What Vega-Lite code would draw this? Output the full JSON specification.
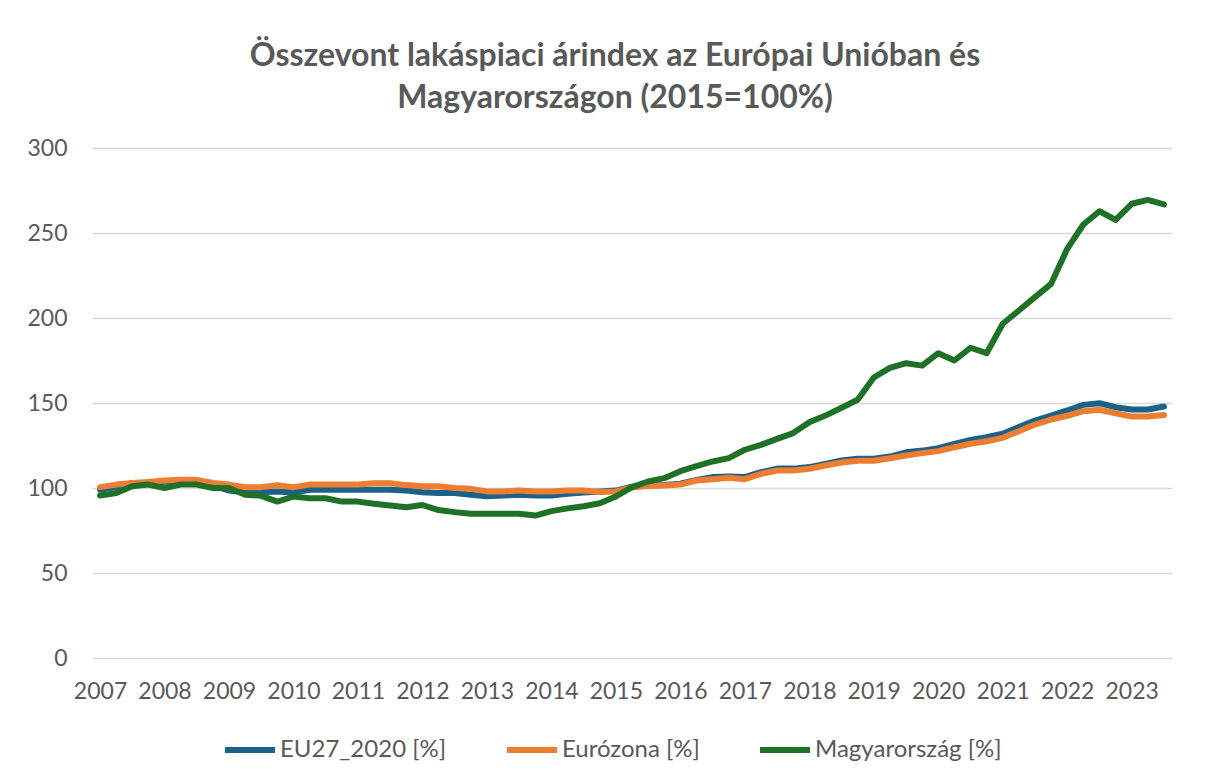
{
  "$schema": "https://vega.github.io/schema/vega-lite/v6.json",
  "width": 1080,
  "height": 510,
  "autosize": {"type": "none"},
  "padding": {"left": 92, "top": 148, "right": 36, "bottom": 124},
  "background": "white",
  "title": {
    "text": ["Összevont lakáspiaci árindex az Európai Unióban és", "Magyarországon (2015=100%)"],
    "font": "Lato",
    "fontSize": 32,
    "fontWeight": "bold",
    "color": "#595959",
    "anchor": "middle",
    "lineHeight": 42,
    "offset": 22,
    "dx": -17
  },
  "config": {
    "view": {"stroke": null},
    "font": "Lato"
  },
  "data": {
    "values": [
      {"period":"2007Q1","series":"EU27_2020 [%]","value":99},
      {"period":"2007Q2","series":"EU27_2020 [%]","value":100.5},
      {"period":"2007Q3","series":"EU27_2020 [%]","value":103},
      {"period":"2007Q4","series":"EU27_2020 [%]","value":103},
      {"period":"2008Q1","series":"EU27_2020 [%]","value":103.6},
      {"period":"2008Q2","series":"EU27_2020 [%]","value":104},
      {"period":"2008Q3","series":"EU27_2020 [%]","value":104},
      {"period":"2008Q4","series":"EU27_2020 [%]","value":101.5},
      {"period":"2009Q1","series":"EU27_2020 [%]","value":98.5},
      {"period":"2009Q2","series":"EU27_2020 [%]","value":97.4},
      {"period":"2009Q3","series":"EU27_2020 [%]","value":97.5},
      {"period":"2009Q4","series":"EU27_2020 [%]","value":98},
      {"period":"2010Q1","series":"EU27_2020 [%]","value":97.4},
      {"period":"2010Q2","series":"EU27_2020 [%]","value":99},
      {"period":"2010Q3","series":"EU27_2020 [%]","value":99},
      {"period":"2010Q4","series":"EU27_2020 [%]","value":99},
      {"period":"2011Q1","series":"EU27_2020 [%]","value":99},
      {"period":"2011Q2","series":"EU27_2020 [%]","value":99},
      {"period":"2011Q3","series":"EU27_2020 [%]","value":99},
      {"period":"2011Q4","series":"EU27_2020 [%]","value":98.5},
      {"period":"2012Q1","series":"EU27_2020 [%]","value":97.5},
      {"period":"2012Q2","series":"EU27_2020 [%]","value":97},
      {"period":"2012Q3","series":"EU27_2020 [%]","value":97},
      {"period":"2012Q4","series":"EU27_2020 [%]","value":96},
      {"period":"2013Q1","series":"EU27_2020 [%]","value":95.2},
      {"period":"2013Q2","series":"EU27_2020 [%]","value":95.6},
      {"period":"2013Q3","series":"EU27_2020 [%]","value":96},
      {"period":"2013Q4","series":"EU27_2020 [%]","value":95.6},
      {"period":"2014Q1","series":"EU27_2020 [%]","value":95.6},
      {"period":"2014Q2","series":"EU27_2020 [%]","value":96.6},
      {"period":"2014Q3","series":"EU27_2020 [%]","value":97.4},
      {"period":"2014Q4","series":"EU27_2020 [%]","value":98},
      {"period":"2015Q1","series":"EU27_2020 [%]","value":98.5},
      {"period":"2015Q2","series":"EU27_2020 [%]","value":100.8},
      {"period":"2015Q3","series":"EU27_2020 [%]","value":101.5},
      {"period":"2015Q4","series":"EU27_2020 [%]","value":101.8},
      {"period":"2016Q1","series":"EU27_2020 [%]","value":102.5},
      {"period":"2016Q2","series":"EU27_2020 [%]","value":104.8},
      {"period":"2016Q3","series":"EU27_2020 [%]","value":106.4},
      {"period":"2016Q4","series":"EU27_2020 [%]","value":106.8},
      {"period":"2017Q1","series":"EU27_2020 [%]","value":106.4},
      {"period":"2017Q2","series":"EU27_2020 [%]","value":109.3},
      {"period":"2017Q3","series":"EU27_2020 [%]","value":111.4},
      {"period":"2017Q4","series":"EU27_2020 [%]","value":111.4},
      {"period":"2018Q1","series":"EU27_2020 [%]","value":112.3},
      {"period":"2018Q2","series":"EU27_2020 [%]","value":114.2},
      {"period":"2018Q3","series":"EU27_2020 [%]","value":116.2},
      {"period":"2018Q4","series":"EU27_2020 [%]","value":117.2},
      {"period":"2019Q1","series":"EU27_2020 [%]","value":117.2},
      {"period":"2019Q2","series":"EU27_2020 [%]","value":118.5},
      {"period":"2019Q3","series":"EU27_2020 [%]","value":121},
      {"period":"2019Q4","series":"EU27_2020 [%]","value":122},
      {"period":"2020Q1","series":"EU27_2020 [%]","value":123.4},
      {"period":"2020Q2","series":"EU27_2020 [%]","value":126},
      {"period":"2020Q3","series":"EU27_2020 [%]","value":128.3},
      {"period":"2020Q4","series":"EU27_2020 [%]","value":129.9},
      {"period":"2021Q1","series":"EU27_2020 [%]","value":131.9},
      {"period":"2021Q2","series":"EU27_2020 [%]","value":135.8},
      {"period":"2021Q3","series":"EU27_2020 [%]","value":139.7},
      {"period":"2021Q4","series":"EU27_2020 [%]","value":142.6},
      {"period":"2022Q1","series":"EU27_2020 [%]","value":145.6},
      {"period":"2022Q2","series":"EU27_2020 [%]","value":148.9},
      {"period":"2022Q3","series":"EU27_2020 [%]","value":149.9},
      {"period":"2022Q4","series":"EU27_2020 [%]","value":147.5},
      {"period":"2023Q1","series":"EU27_2020 [%]","value":146.2},
      {"period":"2023Q2","series":"EU27_2020 [%]","value":146.2},
      {"period":"2023Q3","series":"EU27_2020 [%]","value":147.9},

      {"period":"2007Q1","series":"Eurózona [%]","value":100.5},
      {"period":"2007Q2","series":"Eurózona [%]","value":102},
      {"period":"2007Q3","series":"Eurózona [%]","value":103},
      {"period":"2007Q4","series":"Eurózona [%]","value":103.6},
      {"period":"2008Q1","series":"Eurózona [%]","value":104.4},
      {"period":"2008Q2","series":"Eurózona [%]","value":104.8},
      {"period":"2008Q3","series":"Eurózona [%]","value":104.8},
      {"period":"2008Q4","series":"Eurózona [%]","value":103},
      {"period":"2009Q1","series":"Eurózona [%]","value":102},
      {"period":"2009Q2","series":"Eurózona [%]","value":100.5},
      {"period":"2009Q3","series":"Eurózona [%]","value":100.5},
      {"period":"2009Q4","series":"Eurózona [%]","value":101.7},
      {"period":"2010Q1","series":"Eurózona [%]","value":100.5},
      {"period":"2010Q2","series":"Eurózona [%]","value":102},
      {"period":"2010Q3","series":"Eurózona [%]","value":102},
      {"period":"2010Q4","series":"Eurózona [%]","value":102},
      {"period":"2011Q1","series":"Eurózona [%]","value":102},
      {"period":"2011Q2","series":"Eurózona [%]","value":102.8},
      {"period":"2011Q3","series":"Eurózona [%]","value":102.8},
      {"period":"2011Q4","series":"Eurózona [%]","value":101.7},
      {"period":"2012Q1","series":"Eurózona [%]","value":101},
      {"period":"2012Q2","series":"Eurózona [%]","value":101},
      {"period":"2012Q3","series":"Eurózona [%]","value":100},
      {"period":"2012Q4","series":"Eurózona [%]","value":99.5},
      {"period":"2013Q1","series":"Eurózona [%]","value":98},
      {"period":"2013Q2","series":"Eurózona [%]","value":98},
      {"period":"2013Q3","series":"Eurózona [%]","value":98.5},
      {"period":"2013Q4","series":"Eurózona [%]","value":98},
      {"period":"2014Q1","series":"Eurózona [%]","value":98},
      {"period":"2014Q2","series":"Eurózona [%]","value":98.5},
      {"period":"2014Q3","series":"Eurózona [%]","value":98.5},
      {"period":"2014Q4","series":"Eurózona [%]","value":97.7},
      {"period":"2015Q1","series":"Eurózona [%]","value":98},
      {"period":"2015Q2","series":"Eurózona [%]","value":100.3},
      {"period":"2015Q3","series":"Eurózona [%]","value":101.3},
      {"period":"2015Q4","series":"Eurózona [%]","value":101.5},
      {"period":"2016Q1","series":"Eurózona [%]","value":102},
      {"period":"2016Q2","series":"Eurózona [%]","value":104.4},
      {"period":"2016Q3","series":"Eurózona [%]","value":105.2},
      {"period":"2016Q4","series":"Eurózona [%]","value":106},
      {"period":"2017Q1","series":"Eurózona [%]","value":105.2},
      {"period":"2017Q2","series":"Eurózona [%]","value":108.3},
      {"period":"2017Q3","series":"Eurózona [%]","value":110.3},
      {"period":"2017Q4","series":"Eurózona [%]","value":110.3},
      {"period":"2018Q1","series":"Eurózona [%]","value":111.3},
      {"period":"2018Q2","series":"Eurózona [%]","value":113.2},
      {"period":"2018Q3","series":"Eurózona [%]","value":115},
      {"period":"2018Q4","series":"Eurózona [%]","value":116},
      {"period":"2019Q1","series":"Eurózona [%]","value":116},
      {"period":"2019Q2","series":"Eurózona [%]","value":117.5},
      {"period":"2019Q3","series":"Eurózona [%]","value":119.1},
      {"period":"2019Q4","series":"Eurózona [%]","value":120.5},
      {"period":"2020Q1","series":"Eurózona [%]","value":121.7},
      {"period":"2020Q2","series":"Eurózona [%]","value":124},
      {"period":"2020Q3","series":"Eurózona [%]","value":126},
      {"period":"2020Q4","series":"Eurózona [%]","value":127.5},
      {"period":"2021Q1","series":"Eurózona [%]","value":129.5},
      {"period":"2021Q2","series":"Eurózona [%]","value":133.4},
      {"period":"2021Q3","series":"Eurózona [%]","value":137.3},
      {"period":"2021Q4","series":"Eurózona [%]","value":140.3},
      {"period":"2022Q1","series":"Eurózona [%]","value":142.5},
      {"period":"2022Q2","series":"Eurózona [%]","value":145.2},
      {"period":"2022Q3","series":"Eurózona [%]","value":146},
      {"period":"2022Q4","series":"Eurózona [%]","value":144},
      {"period":"2023Q1","series":"Eurózona [%]","value":142},
      {"period":"2023Q2","series":"Eurózona [%]","value":142},
      {"period":"2023Q3","series":"Eurózona [%]","value":143},

      {"period":"2007Q1","series":"Magyarország [%]","value":95.6},
      {"period":"2007Q2","series":"Magyarország [%]","value":97},
      {"period":"2007Q3","series":"Magyarország [%]","value":101},
      {"period":"2007Q4","series":"Magyarország [%]","value":102},
      {"period":"2008Q1","series":"Magyarország [%]","value":100},
      {"period":"2008Q2","series":"Magyarország [%]","value":102},
      {"period":"2008Q3","series":"Magyarország [%]","value":102},
      {"period":"2008Q4","series":"Magyarország [%]","value":100},
      {"period":"2009Q1","series":"Magyarország [%]","value":100},
      {"period":"2009Q2","series":"Magyarország [%]","value":96},
      {"period":"2009Q3","series":"Magyarország [%]","value":95.4},
      {"period":"2009Q4","series":"Magyarország [%]","value":92},
      {"period":"2010Q1","series":"Magyarország [%]","value":95},
      {"period":"2010Q2","series":"Magyarország [%]","value":94},
      {"period":"2010Q3","series":"Magyarország [%]","value":94},
      {"period":"2010Q4","series":"Magyarország [%]","value":92},
      {"period":"2011Q1","series":"Magyarország [%]","value":92},
      {"period":"2011Q2","series":"Magyarország [%]","value":90.7},
      {"period":"2011Q3","series":"Magyarország [%]","value":89.7},
      {"period":"2011Q4","series":"Magyarország [%]","value":88.7},
      {"period":"2012Q1","series":"Magyarország [%]","value":90},
      {"period":"2012Q2","series":"Magyarország [%]","value":87},
      {"period":"2012Q3","series":"Magyarország [%]","value":85.8},
      {"period":"2012Q4","series":"Magyarország [%]","value":84.8},
      {"period":"2013Q1","series":"Magyarország [%]","value":84.8},
      {"period":"2013Q2","series":"Magyarország [%]","value":84.8},
      {"period":"2013Q3","series":"Magyarország [%]","value":84.8},
      {"period":"2013Q4","series":"Magyarország [%]","value":83.8},
      {"period":"2014Q1","series":"Magyarország [%]","value":86.4},
      {"period":"2014Q2","series":"Magyarország [%]","value":88},
      {"period":"2014Q3","series":"Magyarország [%]","value":89.3},
      {"period":"2014Q4","series":"Magyarország [%]","value":91},
      {"period":"2015Q1","series":"Magyarország [%]","value":95},
      {"period":"2015Q2","series":"Magyarország [%]","value":100.5},
      {"period":"2015Q3","series":"Magyarország [%]","value":103.8},
      {"period":"2015Q4","series":"Magyarország [%]","value":105.8},
      {"period":"2016Q1","series":"Magyarország [%]","value":109.9},
      {"period":"2016Q2","series":"Magyarország [%]","value":112.9},
      {"period":"2016Q3","series":"Magyarország [%]","value":115.6},
      {"period":"2016Q4","series":"Magyarország [%]","value":117.6},
      {"period":"2017Q1","series":"Magyarország [%]","value":122.5},
      {"period":"2017Q2","series":"Magyarország [%]","value":125.4},
      {"period":"2017Q3","series":"Magyarország [%]","value":128.9},
      {"period":"2017Q4","series":"Magyarország [%]","value":132.3},
      {"period":"2018Q1","series":"Magyarország [%]","value":138.7},
      {"period":"2018Q2","series":"Magyarország [%]","value":142.6},
      {"period":"2018Q3","series":"Magyarország [%]","value":147.2},
      {"period":"2018Q4","series":"Magyarország [%]","value":151.9},
      {"period":"2019Q1","series":"Magyarország [%]","value":165},
      {"period":"2019Q2","series":"Magyarország [%]","value":170.7},
      {"period":"2019Q3","series":"Magyarország [%]","value":173.4},
      {"period":"2019Q4","series":"Magyarország [%]","value":172},
      {"period":"2020Q1","series":"Magyarország [%]","value":179.3},
      {"period":"2020Q2","series":"Magyarország [%]","value":175},
      {"period":"2020Q3","series":"Magyarország [%]","value":182.5},
      {"period":"2020Q4","series":"Magyarország [%]","value":179.3},
      {"period":"2021Q1","series":"Magyarország [%]","value":196.6},
      {"period":"2021Q2","series":"Magyarország [%]","value":204.4},
      {"period":"2021Q3","series":"Magyarország [%]","value":212.3},
      {"period":"2021Q4","series":"Magyarország [%]","value":220.1},
      {"period":"2022Q1","series":"Magyarország [%]","value":240.7},
      {"period":"2022Q2","series":"Magyarország [%]","value":255},
      {"period":"2022Q3","series":"Magyarország [%]","value":262.8},
      {"period":"2022Q4","series":"Magyarország [%]","value":257.7},
      {"period":"2023Q1","series":"Magyarország [%]","value":267.2},
      {"period":"2023Q2","series":"Magyarország [%]","value":269.5},
      {"period":"2023Q3","series":"Magyarország [%]","value":266.8}
    ]
  },
  "mark": {"type": "line", "strokeWidth": 6, "strokeCap": "round", "strokeJoin": "round"},
  "encoding": {
    "x": {
      "field": "period",
      "type": "ordinal",
      "scale": {"type": "point", "padding": 0.5},
      "axis": {
        "title": null,
        "labelAngle": 0,
        "labelExpr": "indexof(datum.value, 'Q1') > 0 ? substring(datum.value, 0, 4) : ''",
        "labelOverlap": false,
        "labelFont": "Lato",
        "labelFontSize": 23,
        "labelColor": "#595959",
        "labelPadding": 22,
        "ticks": false,
        "domain": false,
        "grid": false
      }
    },
    "y": {
      "field": "value",
      "type": "quantitative",
      "scale": {"domain": [0, 300], "nice": false},
      "axis": {
        "title": null,
        "values": [0, 50, 100, 150, 200, 250, 300],
        "labelFont": "Lato",
        "labelFontSize": 23,
        "labelColor": "#595959",
        "labelPadding": 25,
        "ticks": false,
        "domain": false,
        "gridColor": "#D9D9D9",
        "gridWidth": 1.5
      }
    },
    "color": {
      "field": "series",
      "type": "nominal",
      "scale": {
        "domain": ["EU27_2020 [%]", "Eurózona [%]", "Magyarország [%]"],
        "range": ["#1B6189", "#ED7D31", "#1E7126"]
      },
      "legend": {
        "title": null,
        "orient": "none",
        "legendX": 130,
        "legendY": 574,
        "direction": "horizontal",
        "symbolType": "stroke",
        "symbolSize": 2500,
        "symbolStrokeWidth": 6,
        "labelFont": "Lato",
        "labelFontSize": 24,
        "labelColor": "#595959",
        "labelOffset": 2,
        "labelLimit": 400,
        "columnPadding": 48
      }
    }
  }
}
